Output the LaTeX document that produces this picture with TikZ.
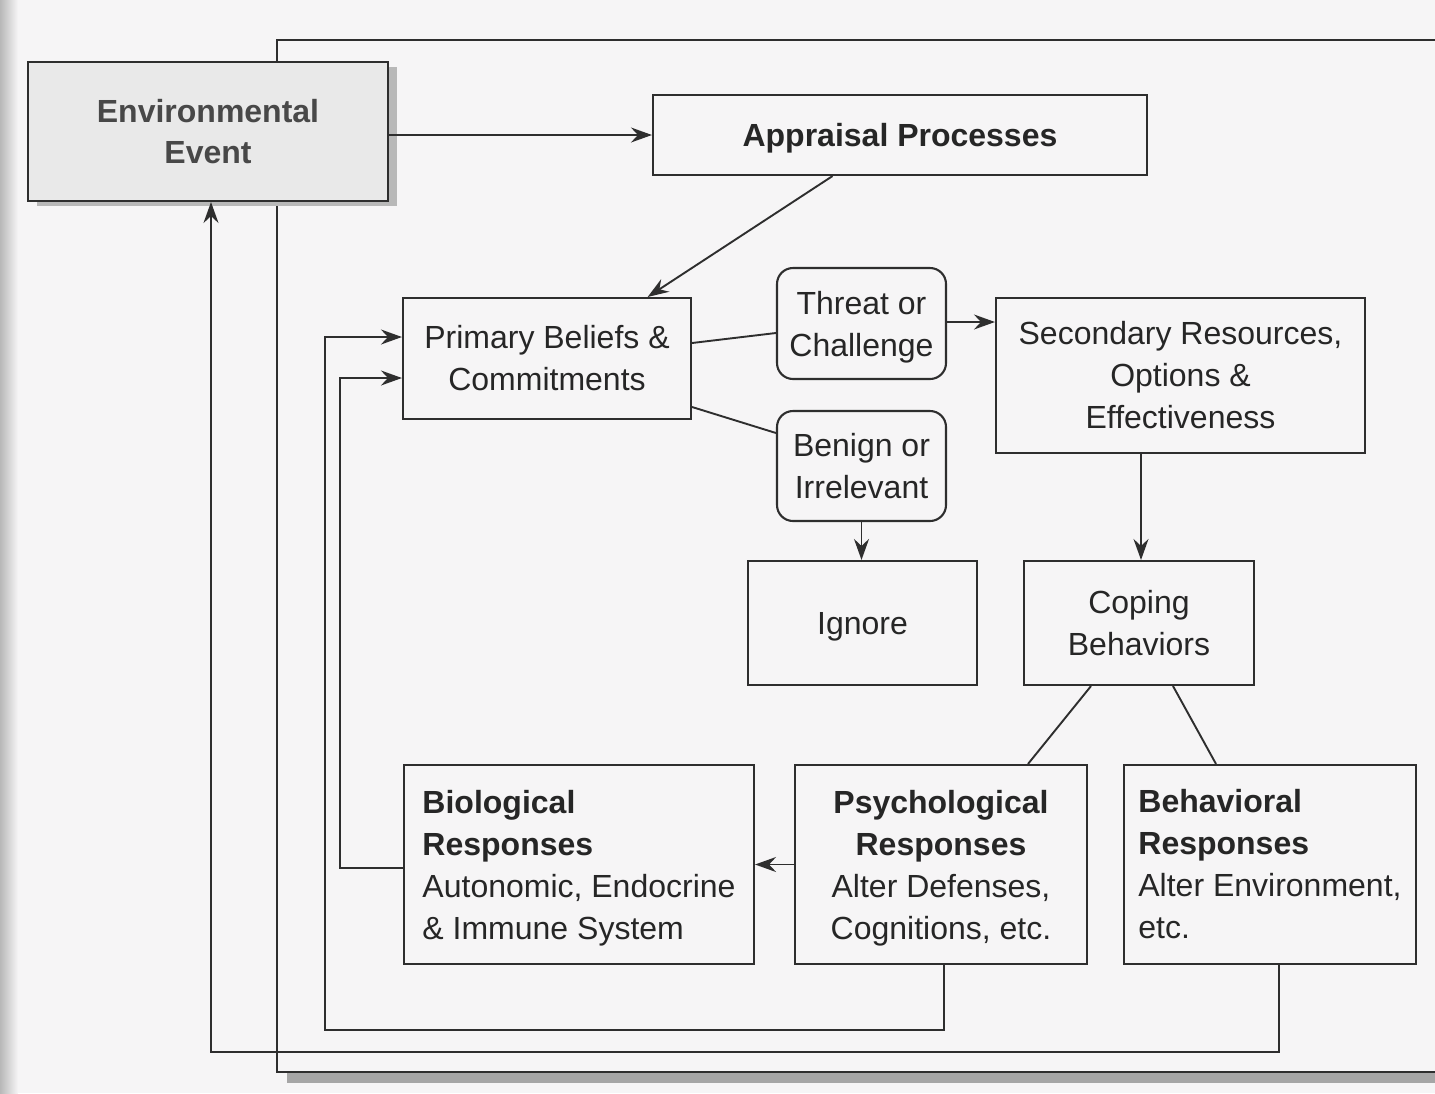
\documentclass[tikz,border=0pt]{standalone}
\usepackage{fontspec}
\setmainfont{Liberation Sans}
\usetikzlibrary{arrows.meta,calc,shadows}
\definecolor{ink}{HTML}{2E2E2E}
\definecolor{txt}{HTML}{262626}
\definecolor{paper}{HTML}{F6F5F6}
\definecolor{envfill}{HTML}{E9E9E9}
\definecolor{envtxt}{HTML}{484848}
\begin{document}
\begin{tikzpicture}[x=1pt,y=-1pt,
  lbl/.style={font=\fontsize{32}{42}\selectfont, text=txt},
  box/.style={lbl, draw=ink, line width=2.1pt, fill=paper, inner sep=0pt, align=center},
  rbox/.style={box, rounded corners=16pt},
  leftbox/.style={box, align=left},
  conn/.style={draw=ink, line width=1.9pt},
  arr/.style={conn, -{Stealth[length=21pt,width=15pt,inset=7pt]}}
]
\useasboundingbox (0,0) rectangle (1435,1093);
\fill[paper] (0,0) rectangle (1435,1093);
\shade[left color=black!28, right color=paper] (0,0) rectangle (18,1093);
\clip (0,0) rectangle (1435,1093);

% outer frame with shadow
\fill[black!35] (287,1073) rectangle (1440,1083);
\draw[ink, line width=2.4pt] (1440,40) -- (277,40) -- (277,1072) -- (1440,1072);

% nodes
\node[box, font=\fontsize{32}{41}\selectfont\bfseries, text=envtxt, fill=envfill,
      minimum width=360pt, minimum height=139pt,
      drop shadow={shadow xshift=9pt, shadow yshift=-5pt, fill=black!28, opacity=1}]
      (env) at (208,131.5) {Environmental\\Event};
\node[box, font=\fontsize{32}{42}\selectfont\bfseries, text depth=0pt, minimum width=494pt, minimum height=80pt]
      (appr) at (900,135) {Appraisal Processes};
\node[box, minimum width=288pt, minimum height=121pt]
      (prim) at (547,358.5) {Primary Beliefs \&\\Commitments};
\node[rbox, text depth=0pt, minimum width=169pt, minimum height=111pt]
      (threat) at (861.5,323.5) {Threat or\\Challenge};
\node[rbox, minimum width=169pt, minimum height=110pt]
      (benign) at (861.5,466) {Benign or\\Irrelevant};
\node[box, minimum width=369pt, minimum height=155pt]
      (sec) at (1180.5,375.5) {Secondary Resources,\\Options \&\\Effectiveness};
\node[box, text depth=0pt, minimum width=229pt, minimum height=124pt]
      (ignore) at (862.5,623) {Ignore};
\node[box, minimum width=230pt, minimum height=124pt]
      (coping) at (1139,623) {Coping\\Behaviors};
\node[leftbox, text depth=0pt, minimum width=350pt, minimum height=199pt]
      (bio) at (579,864.5) {\textbf{Biological}\\\textbf{Responses}\\Autonomic, Endocrine\\\& Immune System};
\node[box, text depth=0pt, minimum width=292pt, minimum height=199pt]
      (psych) at (941,864.5) {\textbf{Psychological}\\\textbf{Responses}\\Alter Defenses,\\Cognitions, etc.};
\node[leftbox, minimum width=292pt, minimum height=199pt]
      (behav) at (1270,864.5) {\textbf{Behavioral}\\\textbf{Responses}\\Alter Environment,\\etc.};

% connectors
\draw[arr] (env.east |- appr.west) -- (appr.west);
\draw[arr] ($(appr.south west)!0.364!(appr.south east)$) -- ($(prim.north west)!0.847!(prim.north east)$);
\draw[conn] ([yshift=15.5pt]prim.east) -- ([yshift=-9.5pt]threat.west);
\draw[conn] ([yshift=-48.5pt]prim.east) -- ([yshift=33pt]benign.west);
\draw[arr] ([yshift=1.5pt]threat.east) -- ([yshift=1.5pt]threat.east -| sec.west);
\draw[arr] (benign.south) -- (benign.south |- ignore.north);
\draw[arr] ([xshift=2pt]coping.north |- sec.south) -- ([xshift=2pt]coping.north);
\draw[conn] ([xshift=-48pt]coping.south) -- ([xshift=87pt]psych.north);
\draw[conn] ([xshift=34pt]coping.south) -- ([xshift=-54pt]behav.north);
\draw[arr] (psych.west) -- (bio.east);
\draw[arr] ([yshift=-3.5pt]bio.west) -- (340,868) |- ([yshift=-19.5pt]prim.west);
\draw[arr] ([xshift=3pt]psych.south) |- (325,1030) |- ([yshift=21.5pt]prim.west);
\draw[arr] ([xshift=9pt]behav.south) |- (211,1052) -- ([xshift=3pt]env.south);
\end{tikzpicture}
\end{document}
